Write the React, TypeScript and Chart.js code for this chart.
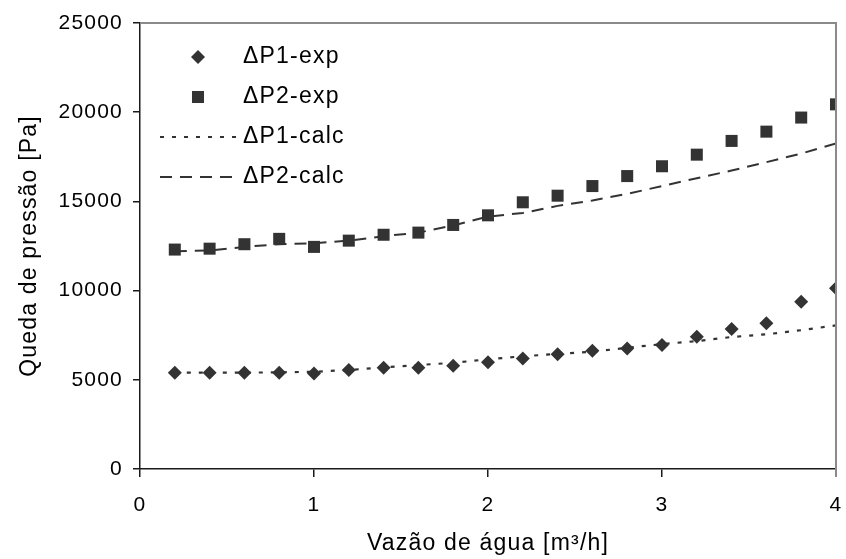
import React, { useEffect, useRef } from 'react';
import { Chart, registerables } from 'chart.js';

Chart.register(...registerables);

const flowRates = [0.2, 0.4, 0.6, 0.8, 1.0, 1.2, 1.4, 1.6, 1.8, 2.0, 2.2, 2.4, 2.6, 2.8, 3.0, 3.2, 3.4, 3.6, 3.8, 4.0];
const dp1Exp = [5400, 5400, 5400, 5400, 5350, 5550, 5680, 5680, 5790, 5980, 6200, 6430, 6630, 6760, 6950, 7420, 7850, 8170, 9380, 10130];
const dp2Exp = [12300, 12350, 12600, 12900, 12450, 12800, 13130, 13250, 13680, 14220, 14950, 15320, 15860, 16420, 16970, 17620, 18390, 18910, 19700, 20440];
const dp1Calc = [5400, 5400, 5400, 5420, 5450, 5550, 5700, 5830, 5950, 6150, 6320, 6450, 6570, 6800, 7000, 7170, 7400, 7550, 7780, 8050];
const dp2Calc = [12200, 12250, 12450, 12600, 12650, 12800, 13050, 13250, 13650, 14150, 14350, 14750, 15050, 15420, 15860, 16300, 16730, 17200, 17680, 18250];

const seriesLabels = ['ΔP1-exp', 'ΔP2-exp', 'ΔP1-calc', 'ΔP2-calc'];
const xTitle = 'Vazão de água [m³/h]';
const yTitle = 'Queda de pressão [Pa]';

const FONT = "'Liberation Sans', Arial, sans-serif";
const INK = '#333333';
const TICK_SIZE = 21;
const TEXT_SIZE = 23;
const SPACING = '1.2px';

const pts = (ys: number[]) => flowRates.map((x, i) => ({ x, y: ys[i] }));

const spacingPlugin = {
  id: 'spacing',
  beforeUpdate(chart: any) {
    try { chart.ctx.letterSpacing = SPACING; } catch (e) { /* ignore */ }
  },
  beforeDraw(chart: any) {
    try { chart.ctx.letterSpacing = SPACING; } catch (e) { /* ignore */ }
  },
};

const frameAndLegend = {
  id: 'frameAndLegend',
  afterDraw(chart: any) {
    const { ctx, chartArea } = chart;
    ctx.save();
    ctx.strokeStyle = '#8a8a8a';
    ctx.lineWidth = 2;
    ctx.beginPath();
    ctx.moveTo(chartArea.left, chartArea.top);
    ctx.lineTo(chartArea.right, chartArea.top);
    ctx.lineTo(chartArea.right, chartArea.bottom + 8);
    ctx.stroke();

    const markX = 198;
    const textX = 243;
    const rowY0 = 57;
    const rowStep = 40;
    chart.data.datasets.forEach((ds: any, i: number) => {
      const y = rowY0 + i * rowStep;
      ctx.fillStyle = INK;
      ctx.strokeStyle = INK;
      if (ds.showLine) {
        ctx.lineWidth = ds.borderWidth;
        ctx.setLineDash(ds.borderDash || []);
        ctx.beginPath();
        ctx.moveTo(160, y);
        ctx.lineTo(236, y);
        ctx.stroke();
        ctx.setLineDash([]);
      } else if (ds.pointStyle === 'rectRot') {
        const r = ds.pointRadius;
        ctx.beginPath();
        ctx.moveTo(markX - r, y);
        ctx.lineTo(markX, y - r);
        ctx.lineTo(markX + r, y);
        ctx.lineTo(markX, y + r);
        ctx.closePath();
        ctx.fill();
      } else {
        const s = ds.pointRadius * Math.SQRT1_2;
        ctx.fillRect(markX - s, y - s, 2 * s, 2 * s);
      }
      ctx.fillStyle = '#000';
      ctx.font = `${TEXT_SIZE}px ${FONT}`;
      ctx.textBaseline = 'middle';
      ctx.textAlign = 'left';
      ctx.fillText(ds.label, textX, y);
    });
    ctx.restore();
  },
};

export default function App() {
  const canvasRef = useRef<HTMLCanvasElement | null>(null);

  useEffect(() => {
    if (!canvasRef.current) return;
    const chart = new Chart(canvasRef.current, {
      type: 'scatter',
      data: {
        datasets: [
          {
            label: seriesLabels[0],
            data: pts(dp1Exp),
            pointStyle: 'rectRot',
            pointRadius: 7,
            pointBorderWidth: 0,
            backgroundColor: INK,
            borderColor: INK,
            showLine: false,
          },
          {
            label: seriesLabels[1],
            data: pts(dp2Exp),
            pointStyle: 'rect',
            pointRadius: 8.5,
            pointBorderWidth: 0,
            backgroundColor: INK,
            borderColor: INK,
            showLine: false,
          },
          {
            label: seriesLabels[2],
            data: pts(dp1Calc),
            showLine: true,
            pointRadius: 0,
            borderColor: INK,
            borderWidth: 2.2,
            borderDash: [4, 8],
            backgroundColor: INK,
          },
          {
            label: seriesLabels[3],
            data: pts(dp2Calc),
            showLine: true,
            pointRadius: 0,
            borderColor: INK,
            borderWidth: 2,
            borderDash: [12, 8],
            backgroundColor: INK,
          },
        ],
      } as any,
      options: {
        animation: false,
        responsive: true,
        maintainAspectRatio: false,
        layout: { padding: { top: 23, right: 10, bottom: 0, left: 0 } },
        plugins: {
          legend: { display: false },
          tooltip: { enabled: false },
        },
        scales: {
          x: {
            type: 'linear',
            min: 0,
            max: 4,
            afterFit: (s: any) => { s.height = 90; s.paddingLeft = 0; s.paddingRight = 0; },
            ticks: {
              stepSize: 1,
              color: '#000',
              padding: 16,
              font: { family: FONT, size: TICK_SIZE },
              callback: (v: any) => String(v),
            },
            grid: { display: true, drawOnChartArea: false, drawTicks: true, tickLength: 8, color: '#1a1a1a', lineWidth: 1.5 },
            border: { display: true, color: '#1a1a1a', width: 1.5 },
            title: {
              display: true,
              text: xTitle,
              color: '#000',
              font: { family: FONT, size: TEXT_SIZE },
              padding: { top: 0, bottom: 2 },
            },
          },
          y: {
            type: 'linear',
            min: 0,
            max: 25000,
            afterFit: (s: any) => { s.width = 140; s.paddingTop = 0; s.paddingBottom = 0; },
            ticks: {
              stepSize: 5000,
              color: '#000',
              padding: 10,
              font: { family: FONT, size: TICK_SIZE },
              callback: (v: any) => String(v),
            },
            grid: { display: true, drawOnChartArea: false, drawTicks: true, tickLength: 7, color: '#1a1a1a', lineWidth: 1.5 },
            border: { display: true, color: '#1a1a1a', width: 1.5 },
            title: {
              display: true,
              text: yTitle,
              color: '#000',
              font: { family: FONT, size: TEXT_SIZE },
              padding: { top: 16, bottom: 0 },
            },
          },
        },
      } as any,
      plugins: [spacingPlugin, frameAndLegend],
    });
    return () => chart.destroy();
  }, []);

  return (
    <div style={{ position: 'absolute', left: 0, top: 0, width: 846, height: 559, background: '#fff' }}>
      <canvas ref={canvasRef} />
    </div>
  );
}
